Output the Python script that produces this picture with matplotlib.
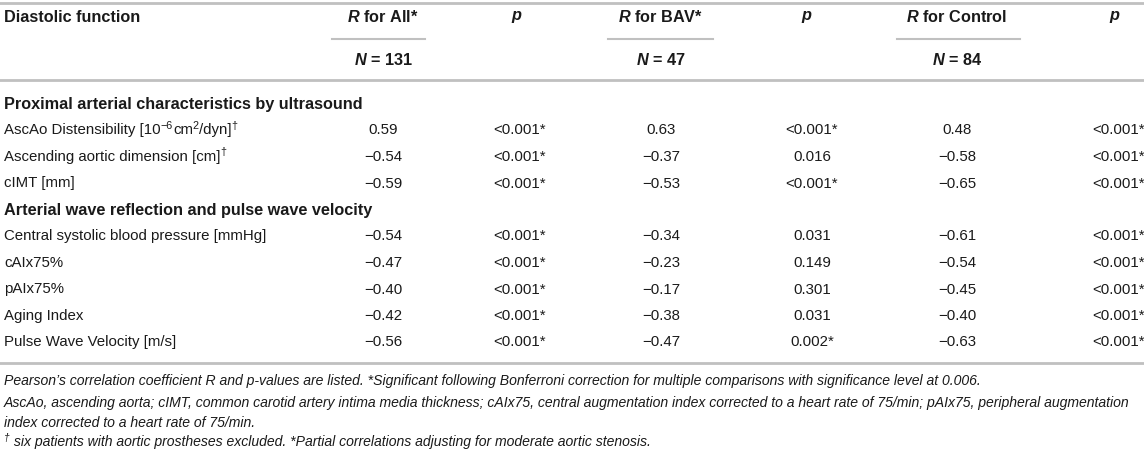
import matplotlib
matplotlib.use("Agg")
import matplotlib.pyplot as plt

plt.rcParams['font.family'] = ['Liberation Sans', 'DejaVu Sans']
plt.rcParams['mathtext.fontset'] = 'custom'
plt.rcParams['mathtext.rm'] = 'Liberation Sans'
plt.rcParams['mathtext.it'] = 'Liberation Sans:italic'
plt.rcParams['mathtext.bf'] = 'Liberation Sans:bold'
plt.rcParams['mathtext.bfit'] = 'Liberation Sans:bold:italic'

# table content
groups = ["All*", "BAV*", "Control"]
group_n = [131, 47, 84]
sections = ["Proximal arterial characteristics by ultrasound",
            "Arterial wave reflection and pulse wave velocity"]
sec_rows = [3, 5]
# label pieces: (text, superscript?)
labels = [[("AscAo Distensibility [10", 0), ("\u22126", 1), ("cm", 0), ("2", 1), ("/dyn]", 0), ("\u2020", 1)],
          [("Ascending aortic dimension [cm]", 0), ("\u2020", 1)],
          [("cIMT [mm]", 0)],
          [("Central systolic blood pressure [mmHg]", 0)],
          [("cAIx75%", 0)],
          [("pAIx75%", 0)],
          [("Aging Index", 0)],
          [("Pulse Wave Velocity [m/s]", 0)]]
r_all = [0.59, -0.54, -0.59, -0.54, -0.47, -0.40, -0.42, -0.56]
p_all = ["<0.001*"] * 8
r_bav = [0.63, -0.37, -0.53, -0.34, -0.23, -0.17, -0.38, -0.47]
p_bav = ["<0.001*", "0.016", "<0.001*", "0.031", "0.149", "0.301", "0.031", "0.002*"]
r_ctrl = [0.48, -0.58, -0.65, -0.61, -0.54, -0.45, -0.40, -0.63]
p_ctrl = ["<0.001*"] * 8
footnotes = [
    [("Pearson\u2019s correlation coefficient R and p-values are listed. *Significant following Bonferroni correction for multiple comparisons with significance level at 0.006.", 0)],
    [("AscAo, ascending aorta; cIMT, common carotid artery intima media thickness; cAIx75, central augmentation index corrected to a heart rate of 75/min; pAIx75, peripheral augmentation", 0)],
    [("index corrected to a heart rate of 75/min.", 0)],
    [("\u2020", 1), (" six patients with aortic prostheses excluded. *Partial correlations adjusting for moderate aortic stenosis.", 0)],
]

TXT = '#1a1a1a'
RULE = '#c0c0c0'
FS = 10.8
FSB = 11.7
FSN = 10.1

fig = plt.figure(figsize=(11.44, 4.5), dpi=100)
ax = fig.add_axes([0, 0, 1, 1])
ax.set_xlim(0, 1144)
ax.set_ylim(450, 0)
ax.axis('off')


def pieces(x, y, parts, size, **kw):
    # y is the row centre; text sits on a baseline a little below it
    base = y + size * 0.36
    prev = None
    for s, sup in parts:
        fs = size * 0.72 if sup else size
        yy = base - size * 0.5 if sup else base
        if prev is None:
            prev = ax.text(x, yy, s, fontsize=fs, color=TXT, va='baseline', **kw)
        else:
            prev = ax.annotate(s, xy=(1, yy), xycoords=(prev, 'data'), fontsize=fs,
                               color=TXT, va='baseline', ha='left', **kw)


r_x = [383, 661, 957]
p_hx = [517, 807, 1115]
p_x = [520, 812, 1119]
ul = [(332, 425), (608, 713), (897, 1020)]

# header
ax.axhline(3, color=RULE, lw=2)
ax.text(4, 17, "Diastolic function", fontsize=FSB, fontweight='bold', color=TXT, va='center')
for i in range(3):
    ax.text(r_x[i], 17, "$\\mathbfit{R}$ for " + groups[i], fontsize=FSB, fontweight='bold',
            color=TXT, ha='center', va='center')
    ax.text(p_hx[i], 17, "$\\mathbfit{p}$", fontsize=FSB, color=TXT, ha='center', va='center')
    ax.plot(ul[i], [39, 39], color=RULE, lw=1.5)
    ax.text(r_x[i], 60, "$\\mathbfit{N}$ = %d" % group_n[i], fontsize=FSB, fontweight='bold',
            color=TXT, ha='center', va='center')
ax.axhline(80, color=RULE, lw=2)


def fmt(v):
    s = "%.2f" % abs(v)
    return ("\u2212" + s) if v < 0 else s


y = 104
row = 0
step = 26.5
for s, n in zip(sections, sec_rows):
    ax.text(4, y, s, fontsize=FSB, fontweight='bold', color=TXT, va='center')
    y += step
    for k in range(n):
        pieces(4, y, labels[row], FS)
        for col, (rv, pv) in enumerate([(r_all, p_all), (r_bav, p_bav), (r_ctrl, p_ctrl)]):
            ax.text(r_x[col], y, fmt(rv[row]), fontsize=FS, color=TXT, ha='center', va='center')
            ax.text(p_x[col], y, pv[row], fontsize=FS, color=TXT, ha='center', va='center')
        row += 1
        y += step
ax.axhline(363, color=RULE, lw=2)

for fy, t in zip([381, 403, 423, 442], footnotes):
    pieces(4, fy, t, FSN, fontstyle='italic')

fig.savefig("out.png", dpi=100)
